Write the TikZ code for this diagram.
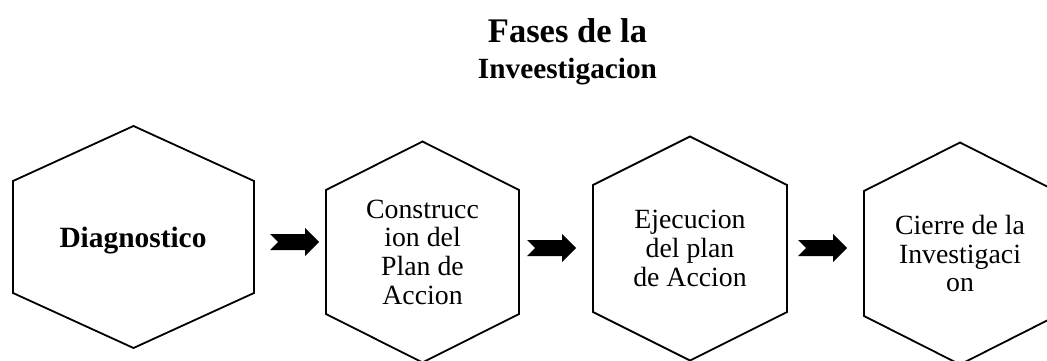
\documentclass[tikz,border=0pt]{standalone}
\usepackage{fontspec}
\setmainfont{Liberation Serif}
\begin{document}
\begin{tikzpicture}[x=1pt,y=-1pt,
  hexline/.style={draw=black,line width=1.8pt,line join=miter},
  phasetext/.style={inner sep=0pt,align=center,font=\fontsize{27.8}{28.7}\selectfont},
  boldtext/.style={inner sep=0pt,font=\bfseries\fontsize{29.4}{30}\selectfont},
  titleA/.style={inner sep=0pt,font=\bfseries\fontsize{34.5}{36}\selectfont},
  titleB/.style={inner sep=0pt,font=\bfseries\fontsize{29.3}{30}\selectfont},
  blockfill/.style={fill=black,draw=none}]
\newcommand\hexshape[4]{%
  \draw[hexline] ([shift={(-#2,-#3)}]#1) -- ([shift={(0,-#3-#4)}]#1) -- ([shift={(#2,-#3)}]#1)
    -- ([shift={(#2,#3)}]#1) -- ([shift={(0,#3+#4)}]#1) -- ([shift={(-#2,#3)}]#1) -- cycle;}
\newcommand\blockarrow[1]{%
  \fill[blockfill] ([shift={(0,-8)}]#1) -- ++(35,0) -- ++(0,-6) -- ++(14,14) -- ++(-14,14)
    -- ++(0,-6) -- ++(-35,0) -- ++(8,-8) -- cycle;}
\useasboundingbox (0,0) rectangle (1047,361);
\clip (0,0) rectangle (1047,361);
% titles
\node[titleA,anchor=base] (title1) at (567.5,43) {Fases de la};
\node[titleB,anchor=base] (title2) at (567.5,78) {Inveestigacion};
% hexagon centres
\coordinate (hc1) at (133.5,237);
\coordinate (hc2) at (422.5,252);
\coordinate (hc3) at (690,248.5);
\coordinate (hc4) at (960,253.5);
\hexshape{hc1}{120.5}{56}{55}
\hexshape{hc2}{96.5}{62}{48.5}
\hexshape{hc3}{97}{63.5}{48.5}
\hexshape{hc4}{96}{62.5}{48.5}
% texts
\node[boldtext,anchor=base] (h1) at (133,247) {Diagnostico};
\node[phasetext] (h2) at (hc2) {Construcc\\ion del\\Plan de\\Accion};
\node[phasetext] (h3) at (hc3) {Ejecucion\\del plan\\de Accion};
\node[phasetext] (h4) at (hc4) {Cierre de la\\Investigaci\\on};
% block arrows
\coordinate (arr1) at (270,242);
\coordinate (arr2) at (527,248);
\coordinate (arr3) at (798,248);
\blockarrow{arr1}
\blockarrow{arr2}
\blockarrow{arr3}
\end{tikzpicture}
\end{document}
